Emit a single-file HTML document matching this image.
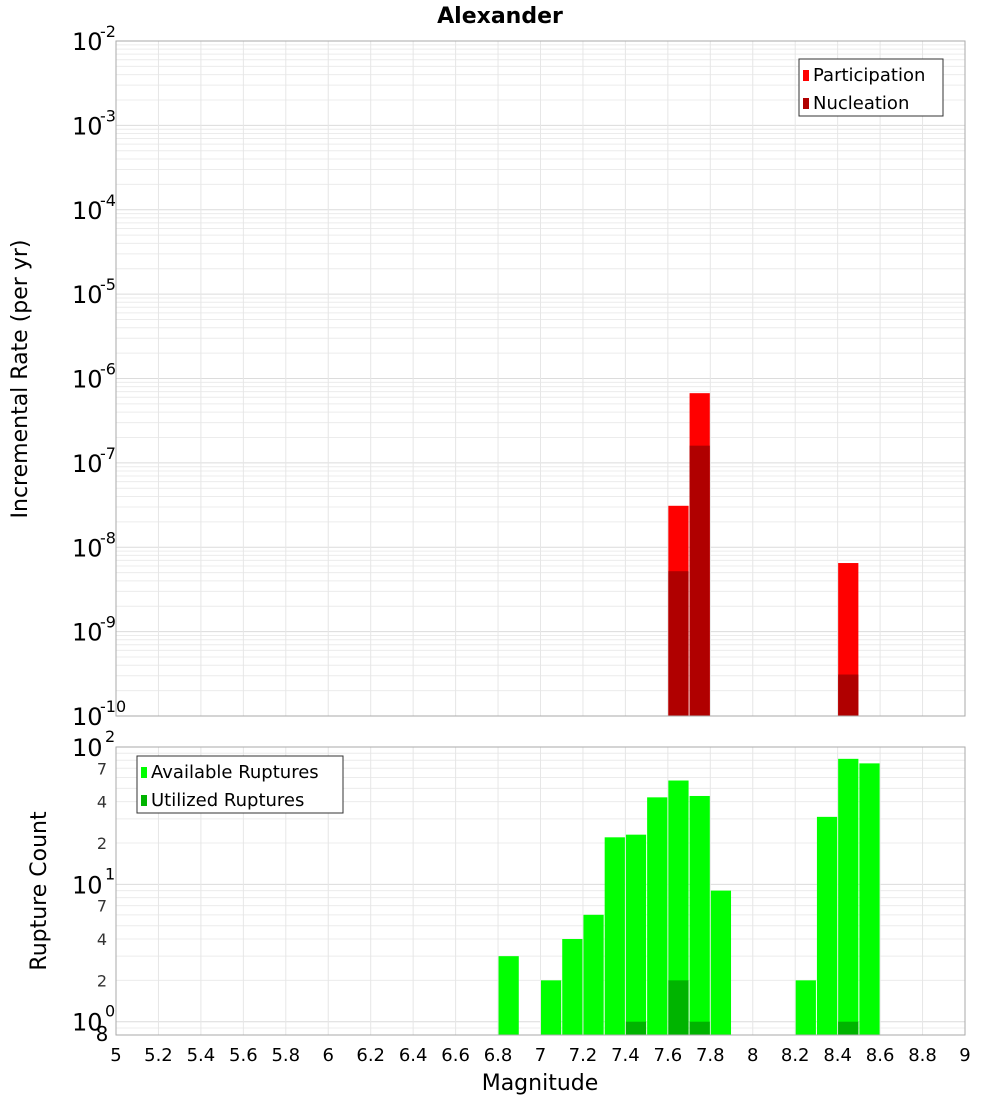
<!DOCTYPE html>
<html><head><meta charset="utf-8"><style>
body{margin:0;background:#fff;}
svg{display:block;font-family:"DejaVu Sans","Liberation Sans",sans-serif;}
</style></head><body>
<svg id="c" width="1000" height="1100">
<text x="500" y="23" text-anchor="middle" font-size="22" font-weight="bold">Alexander</text>
<text transform="translate(27,379) rotate(-90)" text-anchor="middle" font-size="22">Incremental Rate (per yr)</text>
<text transform="translate(46,891) rotate(-90)" text-anchor="middle" font-size="22">Rupture Count</text>
<text x="540" y="1090" text-anchor="middle" font-size="22">Magnitude</text>
<g id="g"></g>
</svg>
<script>
const bins=[6.85,7.05,7.15,7.25,7.35,7.45,7.55,7.65,7.75,7.85,8.25,8.35,8.45,8.55];
const available=[3,2,4,6,22,23,43,57,44,9,2,31,82,76];
const utilBins=[7.45,7.65,7.75,8.45];
const utilized=[1,2,1,1];
const rateBins=[7.65,7.75,8.45];
const participation=[3.1e-8,6.7e-7,6.5e-9];
const nucleation=[5.2e-9,1.6e-7,3.1e-10];
const xTicks=[5,5.2,5.4,5.6,5.8,6,6.2,6.4,6.6,6.8,7,7.2,7.4,7.6,7.8,8,8.2,8.4,8.6,8.8,9];
const topExps=[-2,-3,-4,-5,-6,-7,-8,-9,-10];

const NS="http://www.w3.org/2000/svg",g=document.getElementById('g');
function mk(t,a,txt){const e=document.createElementNS(NS,t);for(const k in a)e.setAttribute(k,a[k]);if(txt!=null)e.textContent=txt;g.appendChild(e);return e;}
const X0=116,X1=965;
const x=v=>X0+(v-5)/4*(X1-X0);
const T0=41,T1=716;
const yT=v=>T1-(Math.log10(v)+10)/8*(T1-T0);
const B0=747,B1=1035;
const yB=v=>B0+(2-Math.log10(v))/(2-Math.log10(0.8))*(B1-B0);

// grids
function grid(y0,y1,yf,lo,hi){
  for(let d=lo;d<hi;d++)for(let m=1;m<10;m++){const v=m*Math.pow(10,d);const yy=yf(v);if(yy<y0-0.5||yy>y1+0.5)continue;
    const l=mk('line',{x1:X0,x2:X1,y1:yy,y2:yy,stroke:m==1?'#dcdcdc':'#ececec','stroke-width':1});
    }
  xTicks.forEach(t=>{const l=mk('line',{x1:x(t),x2:x(t),y1:y0,y2:y1,stroke:'#e6e6e6'});
    });
}
grid(T0,T1,yT,-10,-2);
grid(B0,B1,yB,-1,2);

function bar(c,top,y1,fill,name){const w=x(c+0.05)-x(c-0.05)-1;const r=mk('rect',{x:x(c-0.05)+0.5,y:top,width:w,height:y1-top,fill:fill});
  }
rateBins.forEach((c,i)=>bar(c,yT(participation[i]),T1,'#ff0000','participation-bar'));
rateBins.forEach((c,i)=>bar(c,yT(nucleation[i]),T1,'#b00000','nucleation-bar'));
bins.forEach((c,i)=>bar(c,yB(available[i]),B1,'#00ff00','available-bar'));
utilBins.forEach((c,i)=>bar(c,yB(utilized[i]),B1,'#00b400','utilized-bar'));

[[T0,T1],[B0,B1]].forEach(([a,b])=>{const r=mk('rect',{x:X0,y:a,width:X1-X0,height:b-a,fill:'none',stroke:'#aaa'});
  });

// top y labels
topExps.forEach(e=>{const yy=yT(Math.pow(10,e));
  const t=mk('text',{x:72,y:yy+9,'font-size':24},'10');
  const s=mk('text',{x:100,y:yy-4,'font-size':16},String(e));});
// bottom y labels
[[100,'2'],[10,'1'],[1,'0']].forEach(([v,e])=>{const yy=yB(v);
  const t=mk('text',{x:72,y:yy+9,'font-size':24},'10');
  const s=mk('text',{x:105,y:yy-5,'font-size':16},e);});
[70,40,20,7,4,2].forEach(v=>{const t=mk('text',{x:107,y:yB(v)+6,'font-size':16,'text-anchor':'end',fill:'#333'},String(String(v)[0]));
  });
{const t=mk('text',{x:102,y:1041,'font-size':20,'text-anchor':'middle'},'8');}
xTicks.forEach(v=>{const t=mk('text',{x:x(v),y:1061,'font-size':18,'text-anchor':'middle'},String(v));
  });

// legends
function legend(lx,ly,w,items,name){const r=mk('rect',{x:lx,y:ly,width:w,height:57,fill:'#fff',stroke:'#333'});
  
  items.forEach(([c,l],i)=>{const s=mk('rect',{x:lx+4,y:ly+11+i*28,width:6,height:11,fill:c});
    
    const t=mk('text',{x:lx+14,y:ly+22+i*28,'font-size':18},l);});}
legend(799,59,144,[['#ff0000','Participation'],['#b00000','Nucleation']],'top-legend');
legend(137,756,206,[['#00ff00','Available Ruptures'],['#00b400','Utilized Ruptures']],'bottom-legend');
</script>
</body></html>
